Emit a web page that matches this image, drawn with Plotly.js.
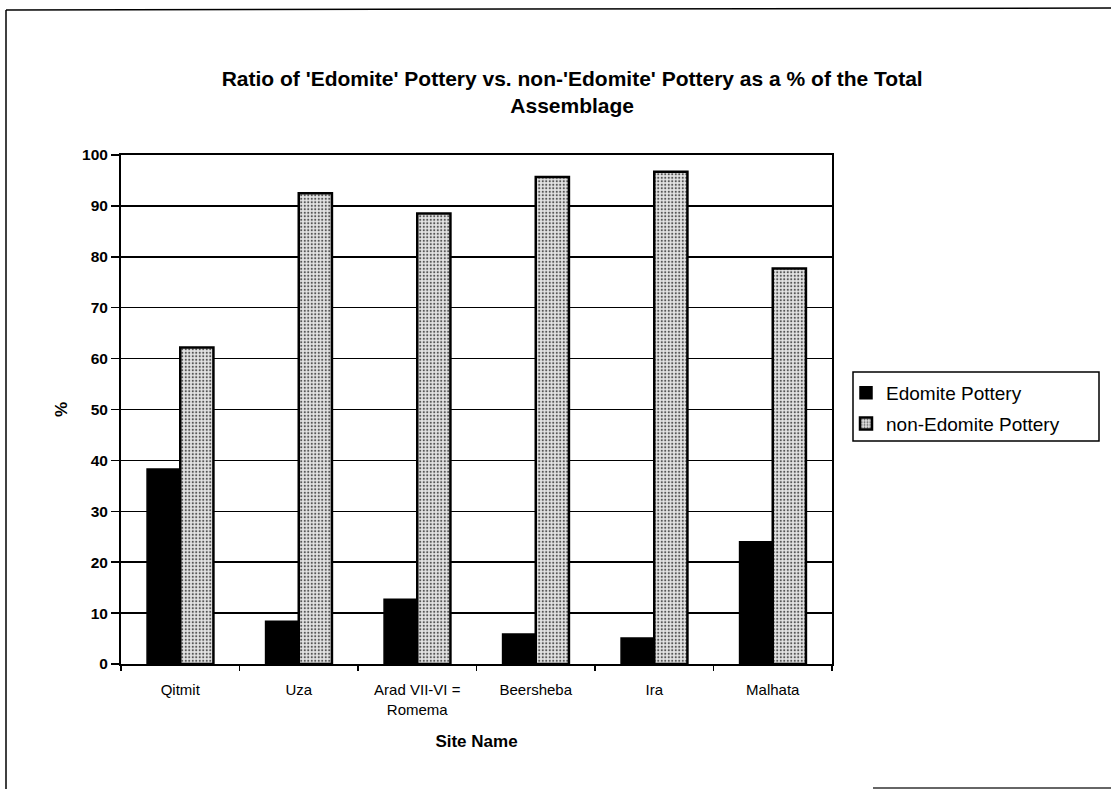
<!DOCTYPE html>
<html>
<head>
<meta charset="utf-8">
<script src="https://cdn.plot.ly/plotly-3.0.1.min.js"></script>
<style>html,body{margin:0;padding:0;background:#fff;}#chart{width:1111px;height:789px;}</style>
</head>
<body>
<div id="chart"></div>
<script>
const sites = ['Qitmit', 'Uza', 'Arad VII-VI =<br>Romema', 'Beersheba', 'Ira', 'Malhata'];
const edomite = [38.3, 8.4, 12.7, 5.9, 5.1, 24.0];
const nonEdomite = [62.2, 92.5, 88.5, 95.7, 96.7, 77.7];
const yTicks = [0, 10, 20, 30, 40, 50, 60, 70, 80, 90, 100];

const F = 'Liberation Sans, Arial, sans-serif';

const traces = [
  {
    type: 'bar', name: 'Edomite Pottery', x: sites, y: edomite, legendgroup: 'a',
    marker: {color: '#000000', line: {color: '#000000', width: 1.5}}
  },
  {
    type: 'bar', name: 'non-Edomite Pottery', x: sites, y: nonEdomite, legendgroup: 'b',
    marker: {
      color: '#d8d8d8',
      line: {color: '#000000', width: 2.5},
      pattern: {shape: '.', bgcolor: '#e4e4e4', fgcolor: '#555555', size: 3.5, solidity: 0.3}
    }
  }
];

const L = 121, R = 832, T = 155, B = 664;
const px = v => (v - L) / (R - L);
const py = v => (B - v) / (B - T);

const layout = {
  width: 1111, height: 789,
  margin: {l: L, r: 1111 - R, t: T, b: 789 - B, pad: 0},
  paper_bgcolor: '#ffffff', plot_bgcolor: '#ffffff',
  font: {family: F, color: '#000000'},
  title: {
    text: "<b>Ratio of 'Edomite' Pottery vs. non-'Edomite' Pottery as a % of the Total<br>Assemblage</b>",
    font: {family: F, size: 21, color: '#000'},
    x: 0.515, xref: 'container', xanchor: 'center',
    y: 1 - 86 / 789, yref: 'container', yanchor: 'top'
  },
  barmode: 'group', bargap: 0.44, bargroupgap: 0,
  xaxis: {
    type: 'category',
    showline: true, linecolor: '#000', linewidth: 2, mirror: true,
    ticks: 'outside', tickson: 'boundaries', ticklen: 5, tickcolor: '#000', tickwidth: 1.5,
    tickfont: {family: F, size: 15, color: '#000'},
    ticklabelstandoff: 11,
    showgrid: false,
    title: {text: '<b>Site Name</b>', font: {family: F, size: 17, color: '#000'}, standoff: 19}
  },
  yaxis: {
    range: [0, 100], tickvals: yTicks, ticktext: yTicks.map(v => '<b>' + v + '</b>'),
    showline: true, linecolor: '#000', linewidth: 2, mirror: true,
    ticks: 'outside', ticklen: 8, tickcolor: '#000', tickwidth: 1.5,
    tickfont: {family: F, size: 15.5, color: '#000'},
    ticklabelstandoff: 0,
    showgrid: true, gridcolor: '#000', gridwidth: 1.5,
    zeroline: false,
    title: {text: '<b>%</b>', font: {family: F, size: 17, color: '#000'}, standoff: 10}
  },
  legend: {
    x: px(846), xanchor: 'left', y: py(374), yanchor: 'top',
    borderwidth: 0, bgcolor: 'rgba(0,0,0,0)',
    font: {family: F, size: 19, color: '#000'},
    itemwidth: 30, tracegroupgap: 3
  },
  shapes: [
    {type: 'rect', xref: 'paper', yref: 'paper', x0: px(853), x1: px(1099), y0: py(372), y1: py(441), line: {color: '#000', width: 1.5}, fillcolor: 'rgba(0,0,0,0)'},
    {type: 'line', xref: 'paper', yref: 'paper', x0: px(6), x1: px(1111), y0: py(10), y1: py(8), line: {color: '#000', width: 1.5}},
    {type: 'line', xref: 'paper', yref: 'paper', x0: px(6), x1: px(6), y0: py(10), y1: py(789), line: {color: '#000', width: 1.5}},
    {type: 'line', xref: 'paper', yref: 'paper', x0: px(873), x1: px(1111), y0: py(788), y1: py(788), line: {color: '#333', width: 1.5}}
  ],
  showlegend: true
};

Plotly.newPlot('chart', traces, layout, {displayModeBar: false, staticPlot: true});
</script>
</body>
</html>
